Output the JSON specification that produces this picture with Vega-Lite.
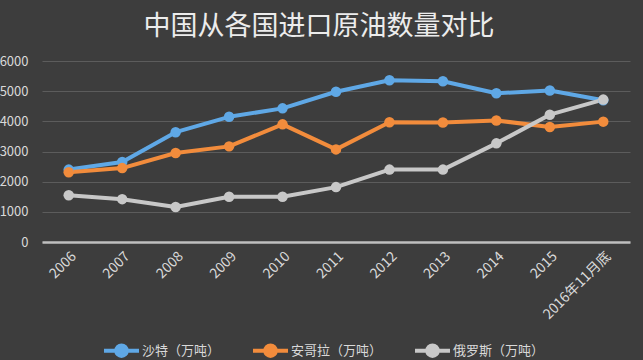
{
  "$schema": "https://vega.github.io/schema/vega-lite/v6.json",
  "width": 588,
  "height": 181,
  "autosize": {"type": "none"},
  "padding": {"left": 42, "top": 61, "right": 13, "bottom": 118},
  "background": "#3d3d3d",
  "title": {
    "text": "中国从各国进口原油数量对比",
    "font": "Noto Sans CJK SC",
    "fontSize": 27,
    "fontWeight": "normal",
    "color": "#ececec",
    "anchor": "middle",
    "frame": "group",
    "dx": -17,
    "offset": 14
  },
  "config": {
    "view": {"stroke": null},
    "axis": {"labelFont": "Noto Sans CJK SC", "labelColor": "#d9d9d9"},
    "legend": {"labelFont": "Noto Sans CJK SC"}
  },
  "data": {
    "values": [
      {"year": "2006", "country": "沙特（万吨）", "value": 2400},
      {"year": "2007", "country": "沙特（万吨）", "value": 2650},
      {"year": "2008", "country": "沙特（万吨）", "value": 3640},
      {"year": "2009", "country": "沙特（万吨）", "value": 4150},
      {"year": "2010", "country": "沙特（万吨）", "value": 4430},
      {"year": "2011", "country": "沙特（万吨）", "value": 4980},
      {"year": "2012", "country": "沙特（万吨）", "value": 5360},
      {"year": "2013", "country": "沙特（万吨）", "value": 5330},
      {"year": "2014", "country": "沙特（万吨）", "value": 4930},
      {"year": "2015", "country": "沙特（万吨）", "value": 5020},
      {"year": "2016年11月底", "country": "沙特（万吨）", "value": 4700},
      {"year": "2006", "country": "安哥拉（万吨）", "value": 2310},
      {"year": "2007", "country": "安哥拉（万吨）", "value": 2450},
      {"year": "2008", "country": "安哥拉（万吨）", "value": 2950},
      {"year": "2009", "country": "安哥拉（万吨）", "value": 3170},
      {"year": "2010", "country": "安哥拉（万吨）", "value": 3900},
      {"year": "2011", "country": "安哥拉（万吨）", "value": 3070},
      {"year": "2012", "country": "安哥拉（万吨）", "value": 3970},
      {"year": "2013", "country": "安哥拉（万吨）", "value": 3960},
      {"year": "2014", "country": "安哥拉（万吨）", "value": 4030},
      {"year": "2015", "country": "安哥拉（万吨）", "value": 3810},
      {"year": "2016年11月底", "country": "安哥拉（万吨）", "value": 3990},
      {"year": "2006", "country": "俄罗斯（万吨）", "value": 1550},
      {"year": "2007", "country": "俄罗斯（万吨）", "value": 1420},
      {"year": "2008", "country": "俄罗斯（万吨）", "value": 1160},
      {"year": "2009", "country": "俄罗斯（万吨）", "value": 1500},
      {"year": "2010", "country": "俄罗斯（万吨）", "value": 1500},
      {"year": "2011", "country": "俄罗斯（万吨）", "value": 1820},
      {"year": "2012", "country": "俄罗斯（万吨）", "value": 2400},
      {"year": "2013", "country": "俄罗斯（万吨）", "value": 2400},
      {"year": "2014", "country": "俄罗斯（万吨）", "value": 3270},
      {"year": "2015", "country": "俄罗斯（万吨）", "value": 4220},
      {"year": "2016年11月底", "country": "俄罗斯（万吨）", "value": 4720}
    ]
  },
  "encoding": {
    "x": {
      "field": "year",
      "type": "ordinal",
      "sort": null,
      "scale": {"type": "point", "padding": 0.5},
      "axis": {
        "title": null,
        "labelAngle": -45,
        "labelFontSize": 14,
        "labelPadding": 7,
        "ticks": false,
        "domain": true,
        "domainColor": "#bfbfbf",
        "domainWidth": 2.5,
        "grid": false
      }
    },
    "y": {
      "field": "value",
      "type": "quantitative",
      "scale": {"domain": [0, 6000]},
      "axis": {
        "title": null,
        "values": [0, 1000, 2000, 3000, 4000, 5000, 6000],
        "format": "d",
        "labelFontSize": 13,
        "labelPadding": 14,
        "ticks": false,
        "domain": false,
        "grid": true,
        "gridColor": "#5c5c5c",
        "gridWidth": 1
      }
    },
    "color": {
      "field": "country",
      "type": "nominal",
      "scale": {
        "domain": ["沙特（万吨）", "安哥拉（万吨）", "俄罗斯（万吨）"],
        "range": ["#5fa8e6", "#f28c3c", "#c8c8c8"]
      },
      "legend": {
        "title": null,
        "orient": "none",
        "direction": "horizontal",
        "legendX": 60,
        "legendY": 270,
        "padding": 0,
        "symbolType": "M-1,0H1M-0.3,0A0.3,0.3,0,1,1,0.3,0A0.3,0.3,0,1,1,-0.3,0",
        "symbolSize": 1225,
        "symbolStrokeWidth": 4,
        "symbolOpacity": 1,
        "labelFontSize": 13,
        "labelColor": "#d9d9d9",
        "labelOffset": 1,
        "columnPadding": 24,
        "encode": {
          "symbols": {"update": {"fill": {"scale": "color", "field": "value"}, "fillOpacity": {"value": 1}}}
        }
      }
    }
  },
  "layer": [
    {"mark": {"type": "line", "strokeWidth": 4, "strokeCap": "round", "strokeJoin": "round"}},
    {"mark": {"type": "point", "filled": true, "size": 110, "opacity": 1}}
  ]
}
